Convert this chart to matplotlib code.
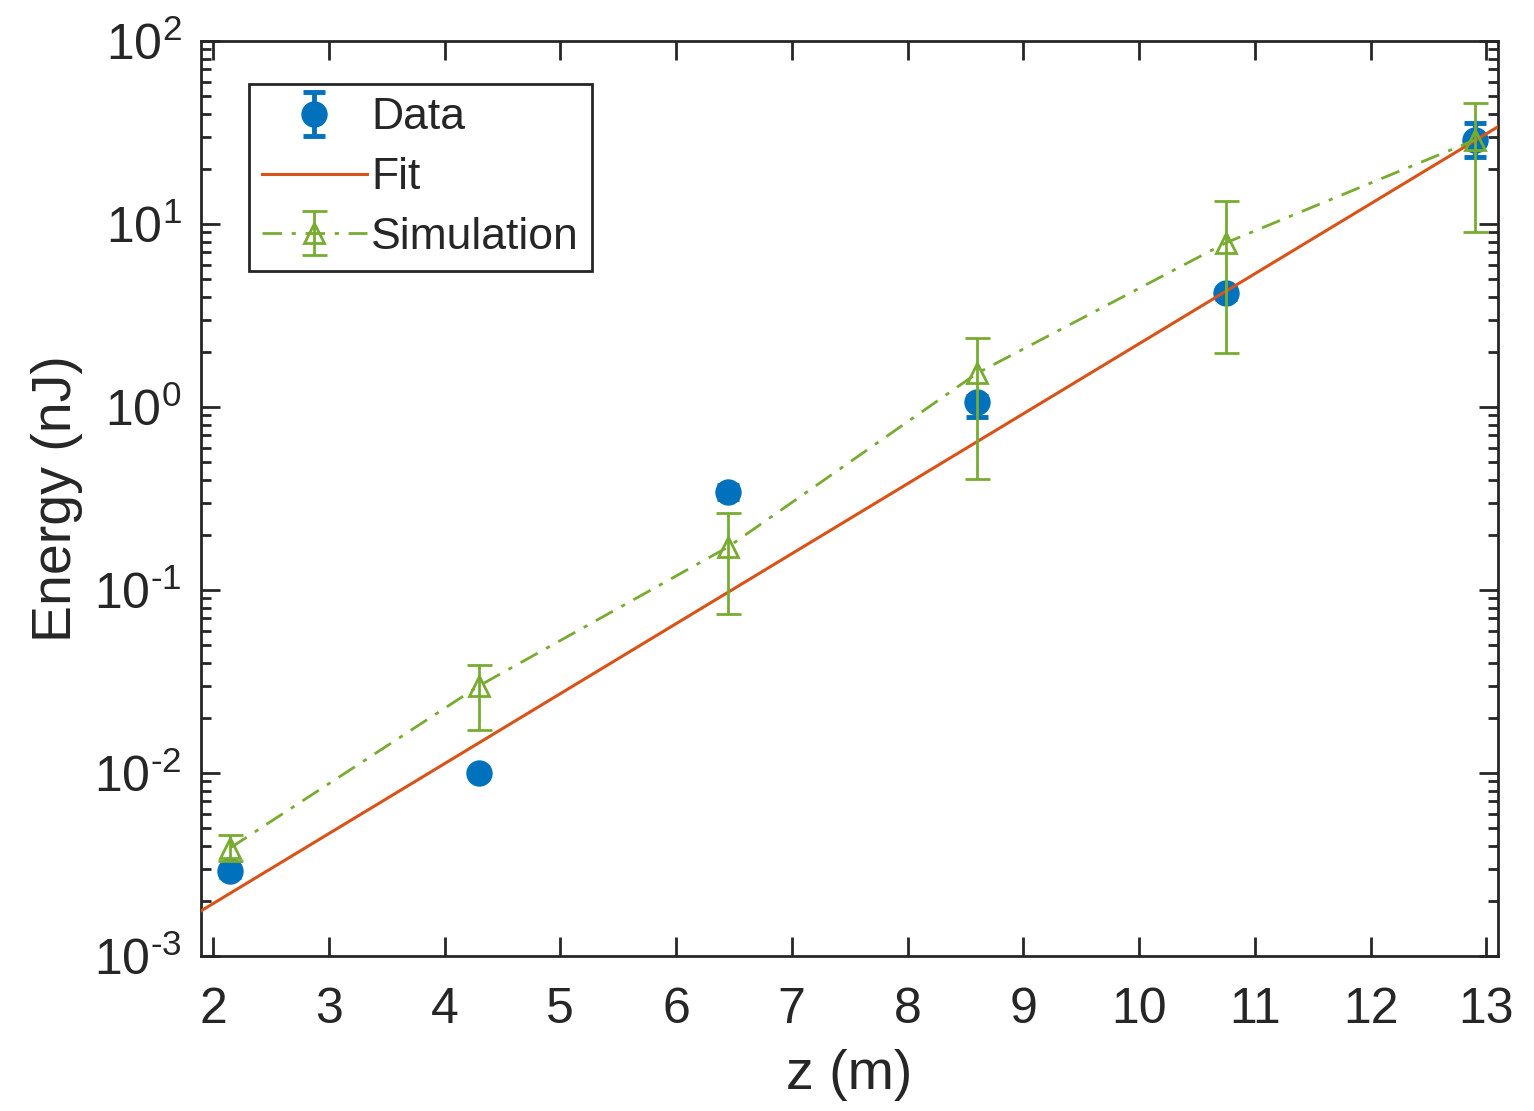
import numpy as np
import matplotlib
matplotlib.use("Agg")
import matplotlib.pyplot as plt
from matplotlib.ticker import FixedLocator, LogLocator, NullFormatter

# ---- measured energies along the undulator ----
z_data = [2.15, 4.30, 6.45, 8.60, 10.75, 12.90]
e_data = [0.0029, 0.0100, 0.344, 1.06, 4.2, 28.8]
e_data_lo = [0.0027, 0.0095, 0.315, 0.88, 3.9, 23.2]
e_data_hi = [0.0031, 0.0105, 0.375, 1.15, 4.5, 35.6]

# ---- simulated energies with spread ----
z_sim = [2.15, 4.30, 6.45, 8.60, 10.75, 12.90]
e_sim = [0.0039, 0.030, 0.172, 1.53, 7.9, 28.8]
e_sim_lo = [0.0033, 0.0172, 0.074, 0.405, 1.97, 9.0]
e_sim_hi = [0.0046, 0.039, 0.263, 2.38, 13.4, 46.0]

# ---- exponential gain fit: E = A * 10**(k z) ----
fit_A = 3.32e-4   # nJ
fit_k = 0.3825    # decades per metre

x_ticks = [2, 3, 4, 5, 6, 7, 8, 9, 10, 11, 12, 13]
y_exponents = [-3, -2, -1, 0, 1, 2]

blue = "#0072BD"
orange = "#D95319"
green = "#77AC30"
ink = "#262626"

plt.rcParams["font.family"] = ["Liberation Sans", "DejaVu Sans"]
plt.rcParams["mathtext.fontset"] = "custom"
plt.rcParams["mathtext.rm"] = "Liberation Sans"
plt.rcParams["mathtext.it"] = "Liberation Sans:italic"

fig = plt.figure(figsize=(15.34, 11.11), dpi=100)
ax = fig.add_axes([0.131, 0.1395, 0.8455, 0.8235])

z_fit = np.linspace(1.9, 13.1, 200)
e_fit = fit_A * 10 ** (fit_k * z_fit)

e_data = np.array(e_data)
e_sim = np.array(e_sim)
data_err = [e_data - np.array(e_data_lo), np.array(e_data_hi) - e_data]
sim_err = [e_sim - np.array(e_sim_lo), np.array(e_sim_hi) - e_sim]

h_data = ax.errorbar(z_data, e_data, yerr=data_err, fmt="o", color=blue,
                     markersize=18, elinewidth=3.5, capsize=8, capthick=3.5,
                     markerfacecolor=blue, markeredgecolor=blue, zorder=3)
h_fit, = ax.plot(z_fit, e_fit, "-", color=orange, lw=2.2, zorder=4)
h_sim = ax.errorbar(z_sim, e_sim, yerr=sim_err, fmt="^", color=green,
                    linestyle=(0, (7, 3.5, 1.5, 3.5)),
                    markersize=15, markerfacecolor="none", markeredgewidth=2,
                    lw=2, elinewidth=2, capsize=9, capthick=2, zorder=5)

ax.set_yscale("log")
ax.set_xlim(1.896, 13.1)
ax.set_ylim(1e-3, 1e2)

ax.xaxis.set_major_locator(FixedLocator(x_ticks))
ax.set_xticklabels([str(t) for t in x_ticks])
ax.yaxis.set_major_locator(FixedLocator([10.0 ** e for e in y_exponents]))
ax.set_yticklabels([rf"$10^{{\text{{{e}}}}}$" for e in y_exponents])
ax.yaxis.set_minor_locator(LogLocator(base=10, subs=np.arange(2, 10), numticks=20))
ax.yaxis.set_minor_formatter(NullFormatter())

ax.tick_params(which="both", direction="in", top=True, right=True,
               colors=ink, width=2)
ax.tick_params(which="major", length=14, labelsize=36)
ax.tick_params(axis="x", which="major", pad=22)
ax.tick_params(axis="y", which="major", pad=14)
ax.tick_params(which="minor", length=7)
for s in ax.spines.values():
    s.set_color(ink)
    s.set_linewidth(2)

ax.set_xlabel("z (m)", fontsize=40, color=ink, labelpad=12)
ax.set_ylabel("Energy (nJ)", fontsize=40, color=ink, labelpad=8)

leg = ax.legend([h_data, h_fit, h_sim], ["Data", "Fit", "Simulation"],
                loc="upper left", bbox_to_anchor=(0.037, 0.953),
                fontsize=32, frameon=True, fancybox=False, framealpha=1,
                edgecolor=ink, borderpad=0.3, labelspacing=0.42,
                handlelength=2.35, handletextpad=0.1, borderaxespad=0)
leg.get_frame().set_linewidth(2)
for t in leg.get_texts():
    t.set_color(ink)

fig.savefig("out.png", dpi=100, facecolor="white")
